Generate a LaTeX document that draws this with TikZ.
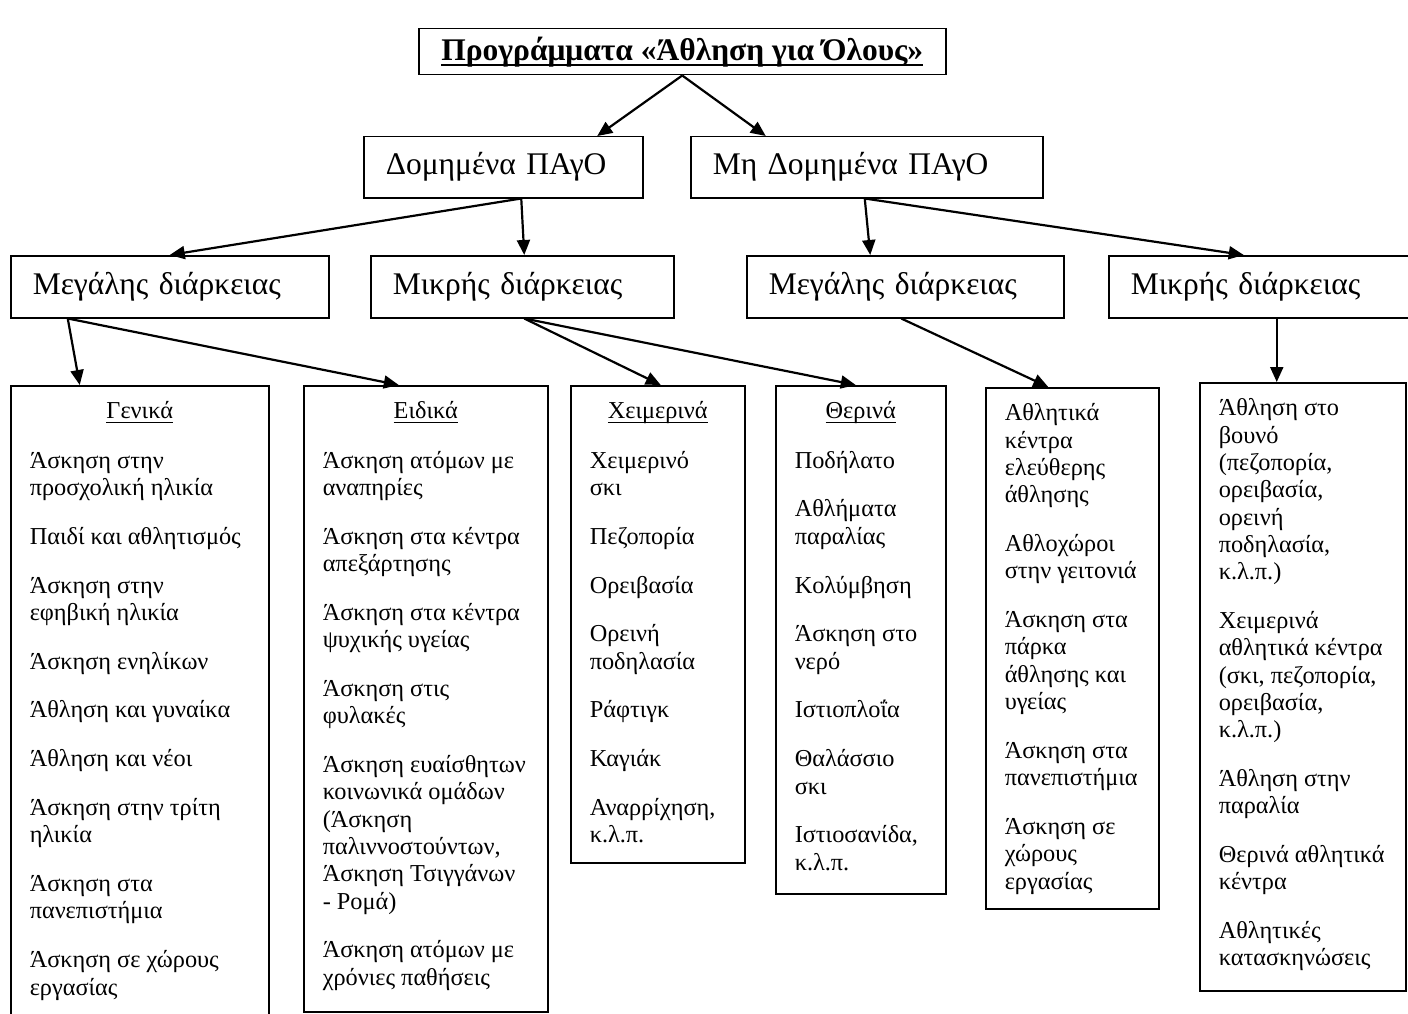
\documentclass[tikz,border=0pt]{standalone}
\usepackage{fontspec}
\setmainfont{Liberation Serif}
\usetikzlibrary{arrows.meta}
\tikzset{
	lvlbox/.style={draw, line width=1.5pt, anchor=north west, align=left, inner xsep=22pt, inner ysep=0pt, minimum height=62pt, font=\fontsize{31.5}{37}\selectfont},
	listbox/.style={draw, line width=1.5pt, anchor=north west, inner xsep=19pt, inner ysep=14pt, font=\fontsize{24.3}{27.3}\selectfont},
	arr/.style={-{Triangle[length=15pt,width=13pt]}, line width=2.2pt}
}
\def\nxt{\\[21.5pt]}
\def\ulbox#1#2#3{\setbox0=\hbox{#3}\rlap{\rule[-#1]{\wd0}{#2}}\box0}
\def\colhead#1#2{\makebox[#1][c]{\ulbox{4pt}{1.3pt}{#2}}\\[22pt]}

\begin{document}
\begin{tikzpicture}[x=1pt, y=-1pt]
			%%%%% START %%%%%
			\useasboundingbox (0,0) rectangle (1408,1014);
			
			\node[draw, line width=1.5pt, anchor=north west, minimum width=527pt, minimum height=46pt, font=\bfseries\fontsize{31.5}{36}\selectfont] (title) at (418,28) {\ulbox{6pt}{2.5pt}{Προγράμματα «Άθληση για Όλους»}};
			
			\node[lvlbox, text width=235pt, minimum height=61pt] (dom) at (363,136) {Δομημένα ΠΑγΟ};
			\node[lvlbox, text width=308pt, minimum height=61pt] (mdom) at (690,136) {Μη Δομημένα ΠΑγΟ};
			
			\node[lvlbox, text width=274pt] (megA) at (10,255) {Μεγάλης διάρκειας};
			\node[lvlbox, text width=259pt] (mikA) at (370,255) {Μικρής διάρκειας};
			\node[lvlbox, text width=273pt] (megB) at (746,255) {Μεγάλης διάρκειας};
			\node[lvlbox, text width=268pt] (mikB) at (1108,255) {Μικρής διάρκειας};
			
			\node[listbox] (gen) at (10,385) {\parbox[c][612pt][t]{220pt}{\begin{tabular}[t]{@{}l@{}}
				\colhead{220pt}{Γενικά}
				Άσκηση στην \\ προσχολική ηλικία \nxt
				Παιδί και αθλητισμός \nxt
				Άσκηση στην \\ εφηβική ηλικία \nxt
				Άσκηση ενηλίκων \nxt
				Άθληση και γυναίκα \nxt
				Άθληση και νέοι \nxt
				Άσκηση στην τρίτη \\ ηλικία \nxt
				Άσκηση στα \\ πανεπιστήμια \nxt
				Άσκηση σε χώρους \\ εργασίας
			\end{tabular}}};
			
			\node[listbox] (eid) at (303,385) {\parbox[c][598pt][t]{206pt}{\begin{tabular}[t]{@{}l@{}}
				\colhead{206pt}{Ειδικά}
				Άσκηση ατόμων με \\ αναπηρίες \nxt
				Άσκηση στα κέντρα \\ απεξάρτησης \nxt
				Άσκηση στα κέντρα \\ ψυχικής υγείας \nxt
				Άσκηση στις \\ φυλακές \nxt
				Άσκηση ευαίσθητων \\ κοινωνικά ομάδων \\ (Άσκηση \\ παλιννοστούντων, \\ Άσκηση Τσιγγάνων \\ - Ρομά) \nxt
				Άσκηση ατόμων με \\ χρόνιες παθήσεις
			\end{tabular}}};
			
			\node[listbox] (xeim) at (570,385) {\parbox[c][449pt][t]{136pt}{\begin{tabular}[t]{@{}l@{}}
				\colhead{136pt}{Χειμερινά}
				Χειμερινό \\ σκι \nxt
				Πεζοπορία \nxt
				Ορειβασία \nxt
				Ορεινή \\ ποδηλασία \nxt
				Ράφτιγκ \nxt
				Καγιάκ \nxt
				Αναρρίχηση, \\ κ.λ.π.
			\end{tabular}}};
			
			\node[listbox] (ther) at (775,385) {\parbox[c][480pt][t]{132pt}{\begin{tabular}[t]{@{}l@{}}
				\colhead{132pt}{Θερινά}
				Ποδήλατο \nxt
				Αθλήματα \\ παραλίας \nxt
				Κολύμβηση \nxt
				Άσκηση στο \\ νερό \nxt
				Ιστιοπλοΐα \nxt
				Θαλάσσιο \\ σκι \nxt
				Ιστιοσανίδα, \\ κ.λ.π.
			\end{tabular}}};
			
			\node[listbox] (ath) at (985,387) {\parbox[c][493pt][t]{135pt}{\begin{tabular}[t]{@{}l@{}}
				Αθλητικά \\ κέντρα \\ ελεύθερης \\ άθλησης \nxt
				Αθλοχώροι \\ στην γειτονιά \nxt
				Άσκηση στα \\ πάρκα \\ άθλησης και \\ υγείας \nxt
				Άσκηση στα \\ πανεπιστήμια \nxt
				Άσκηση σε \\ χώρους \\ εργασίας
			\end{tabular}}};
			
			\node[listbox] (vou) at (1199,382) {\parbox[c][580pt][t]{168pt}{\begin{tabular}[t]{@{}l@{}}
				Άθληση στο \\ βουνό \\ (πεζοπορία, \\ ορειβασία, \\ ορεινή \\ ποδηλασία, \\ κ.λ.π.) \nxt
				Χειμερινά \\ αθλητικά κέντρα \\ (σκι, πεζοπορία, \\ ορειβασία, \\ κ.λ.π.) \nxt
				Άθληση στην \\ παραλία \nxt
				Θερινά αθλητικά \\ κέντρα \nxt
				Αθλητικές \\ κατασκηνώσεις
			\end{tabular}}};
			
			\draw[arr] (title.south) -- ([xshift=94pt]dom.north);
			\draw[arr] (title.south) -- ([xshift=-101pt]mdom.north);
			
			\draw[arr] ([xshift=18pt]dom.south) -- (megA.north);
			\draw[arr] ([xshift=18pt]dom.south) -- ([xshift=2pt]mikA.north);
			\draw[arr] ([xshift=-2pt]mdom.south) -- ([xshift=-35pt]megB.north);
			\draw[arr] ([xshift=-2pt]mdom.south) -- ([xshift=-21pt]mikB.north);
			
			\draw[arr] ([xshift=-102pt]megA.south) -- ([xshift=-60pt]gen.north);
			\draw[arr] ([xshift=-102pt]megA.south) -- ([xshift=-27pt]eid.north);
			\draw[arr] ([xshift=2pt]mikA.south) -- ([xshift=3pt]xeim.north);
			\draw[arr] ([xshift=2pt]mikA.south) -- ([xshift=-5pt]ther.north);
			\draw[arr] ([xshift=-4pt]megB.south) -- ([xshift=-24pt]ath.north);
			\draw[arr] ([xshift=12pt]mikB.south) -- ([xshift=-26pt]vou.north);
			
			%%%%% END %%%%%
\end{tikzpicture}
\end{document}
